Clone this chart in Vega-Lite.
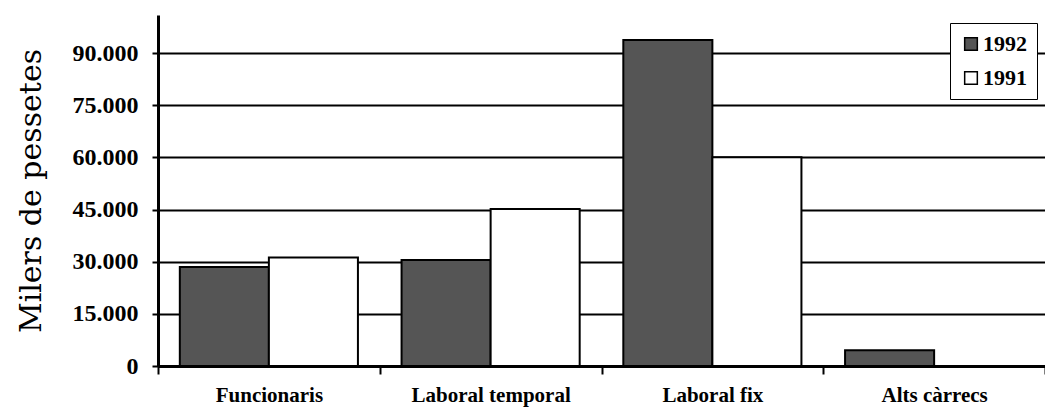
{
  "$schema": "https://vega.github.io/schema/vega-lite/v6.json",
  "width": 887,
  "height": 351,
  "autosize": {"type": "none"},
  "padding": {"left": 158, "top": 15, "right": 0, "bottom": 42},
  "background": "white",
  "data": {
    "values": [
      {"categoria": "Funcionaris", "any": "1992", "valor": 28500},
      {"categoria": "Funcionaris", "any": "1991", "valor": 31200},
      {"categoria": "Laboral temporal", "any": "1992", "valor": 30500},
      {"categoria": "Laboral temporal", "any": "1991", "valor": 45200},
      {"categoria": "Laboral fix", "any": "1992", "valor": 93800},
      {"categoria": "Laboral fix", "any": "1991", "valor": 60100},
      {"categoria": "Alts càrrecs", "any": "1992", "valor": 4500},
      {"categoria": "Alts càrrecs", "any": "1991", "valor": 0}
    ]
  },
  "mark": {"type": "bar", "stroke": "black", "strokeWidth": 2},
  "encoding": {
    "x": {
      "field": "categoria",
      "type": "nominal",
      "sort": ["Funcionaris", "Laboral temporal", "Laboral fix", "Alts càrrecs"],
      "scale": {"paddingInner": 0, "paddingOuter": 0},
      "axis": {
        "title": null,
        "labelAngle": 0,
        "labelFont": "Liberation Serif",
        "labelFontWeight": "bold",
        "labelFontSize": 21,
        "labelColor": "black",
        "labelPadding": 10,
        "domainColor": "black",
        "domainWidth": 3,
        "tickColor": "black",
        "tickWidth": 2,
        "tickSize": 8,
        "tickBand": "extent",
        "grid": false
      }
    },
    "xOffset": {
      "field": "any",
      "type": "nominal",
      "sort": ["1992", "1991"],
      "scale": {"paddingInner": 0, "paddingOuter": 0.245}
    },
    "y": {
      "field": "valor",
      "type": "quantitative",
      "scale": {"domain": [0, 101000], "nice": false},
      "axis": {
        "title": "Milers de pessetes",
        "titleFont": "DejaVu Serif",
        "titleFontSize": 30,
        "titleFontWeight": "normal",
        "titleColor": "black",
        "titlePadding": 26,
        "values": [0, 15000, 30000, 45000, 60000, 75000, 90000],
        "labelExpr": "replace(format(datum.value, ',d'), ',', '.')",
        "labelFont": "Liberation Serif",
        "labelFontWeight": "bold",
        "labelFontSize": 24,
        "labelColor": "black",
        "labelPadding": 14,
        "tickSize": 6,
        "tickWidth": 2,
        "tickColor": "black",
        "domainColor": "black",
        "domainWidth": 3,
        "grid": true,
        "gridColor": "black",
        "gridWidth": 2,
        "gridOpacity": 1
      }
    },
    "color": {
      "field": "any",
      "type": "nominal",
      "scale": {"domain": ["1992", "1991"], "range": ["#555555", "white"]},
      "legend": {
        "title": null,
        "orient": "top-right",
        "offset": 8,
        "fillColor": "white",
        "strokeColor": "black",
        "padding": 10,
        "labelFont": "Liberation Serif",
        "labelFontWeight": "bold",
        "labelFontSize": 22,
        "labelColor": "black",
        "labelOffset": 1,
        "symbolType": "square",
        "symbolSize": 160,
        "rowPadding": 12,
        "encode": {
          "legend": {"update": {"strokeWidth": {"value": 2}}},
          "symbols": {
            "update": {
              "fill": {"signal": "datum.value === '1992' ? 'black' : 'white'"},
              "stroke": {"value": "black"},
              "strokeWidth": {"value": 2.5},
              "opacity": {"value": 1}
            }
          }
        }
      }
    }
  },
  "config": {"view": {"stroke": null}}
}
